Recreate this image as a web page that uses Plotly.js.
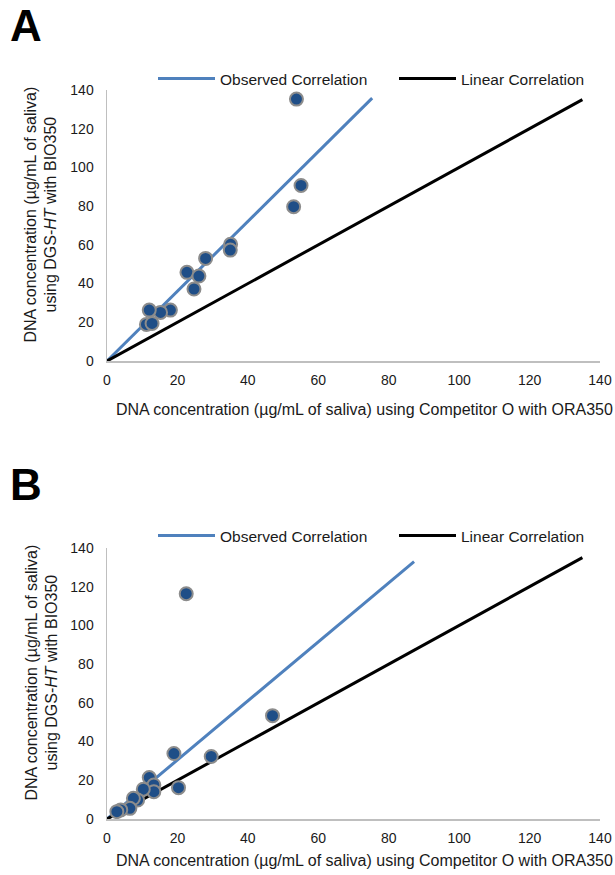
<!DOCTYPE html>
<html>
<head>
<meta charset="utf-8">
<script src="https://cdn.plot.ly/plotly-3.0.1.min.js"></script>
<style>html,body{margin:0;padding:0;background:#fff;}#chart{width:615px;height:875px;}</style>
</head>
<body>
<div id="chart"></div>
<script>
// Panel A data
const aX = [53.8, 55.1, 53.0, 35.1, 35.0, 28.0, 22.7, 26.1, 24.7, 18.0, 15.2, 12.0, 11.2, 12.8];
const aY = [135.3, 90.7, 79.7, 60.3, 57.3, 53.0, 45.8, 43.9, 37.2, 26.3, 25.1, 26.3, 18.9, 19.4];
const aObsX = [0, 75.3];
const aObsY = [0, 135.8];
// Panel B data
const bX = [22.5, 47.0, 29.6, 19.0, 20.3, 12.0, 13.3, 13.3, 10.3, 8.7, 7.5, 6.5, 3.9, 2.8];
const bY = [116.4, 53.4, 32.3, 33.8, 16.2, 21.4, 17.6, 14.1, 15.4, 9.8, 10.7, 5.5, 4.7, 3.8];
const bObsX = [0, 87.2];
const bObsY = [0, 133];
// Linear (1:1) correlation
const linX = [0, 135];
const linY = [0, 135];
// Labels
const seriesNames = ["Observed Correlation", "Linear Correlation"];
const xTitle = "DNA concentration (µg/mL of saliva) using Competitor O with ORA350";
const yTitle = "DNA concentration (µg/mL of saliva)<br>using DGS-<i>HT</i> with BIO350";
const panelLabels = ["A", "B"];

const W = 615, H = 875;
const FONT = "Liberation Sans, Arial, sans-serif";
const obsColor = "#4f81bd";
const markerStyle = {size: 13, color: "#1f4e87", line: {color: "#8c8c8c", width: 2}};

function px(x) { return x / W; }
function py(y) { return 1 - y / H; }

const traces = [
  {x: aObsX, y: aObsY, mode: "lines", name: seriesNames[0], line: {color: obsColor, width: 3}, xaxis: "x", yaxis: "y", legend: "legend"},
  {x: linX, y: linY, mode: "lines", name: seriesNames[1], line: {color: "#000", width: 3}, xaxis: "x", yaxis: "y", legend: "legend2"},
  {x: aX, y: aY, mode: "markers", marker: markerStyle, showlegend: false, xaxis: "x", yaxis: "y"},
  {x: bObsX, y: bObsY, mode: "lines", name: seriesNames[0], line: {color: obsColor, width: 3}, xaxis: "x2", yaxis: "y2", legend: "legend3"},
  {x: linX, y: linY, mode: "lines", name: seriesNames[1], line: {color: "#000", width: 3}, xaxis: "x2", yaxis: "y2", legend: "legend4"},
  {x: bX, y: bY, mode: "markers", marker: markerStyle, showlegend: false, xaxis: "x2", yaxis: "y2"}
];

const axisCommon = {
  range: [0, 140], dtick: 20, tick0: 0, showgrid: false, zeroline: false,
  showline: true, linecolor: "#bfbfbf", linewidth: 1.5, ticks: "",
  tickfont: {family: FONT, size: 14, color: "#1a1a1a"}, fixedrange: true
};
const xAxisCommon = Object.assign({}, axisCommon, {ticklabelstandoff: 6});
const yAxisCommon = Object.assign({}, axisCommon, {ticklabelstandoff: 9});

const xDom = [px(107), px(600)];
const legendCommon = {
  orientation: "h", xanchor: "left", yanchor: "middle", itemwidth: 57,
  font: {family: FONT, size: 15.5, color: "#1a1a1a"},
  bgcolor: "rgba(0,0,0,0)", borderwidth: 0
};

const annotations = [];
[[90, 361, 409], [548, 819, 860]].forEach((p, i) => {
  annotations.push({
    xref: "paper", yref: "paper", x: px(364.5), y: py(p[2]), xanchor: "center", yanchor: "middle",
    text: xTitle, showarrow: false, font: {family: FONT, size: 16, color: "#1a1a1a"}
  });
  annotations.push({
    xref: "paper", yref: "paper", x: px(41), y: py((p[0] + p[1]) / 2 - 11), xanchor: "center", yanchor: "middle",
    text: yTitle, textangle: -90, showarrow: false, font: {family: FONT, size: 16, color: "#1a1a1a"}
  });
  annotations.push({
    xref: "paper", yref: "paper", x: px(26), y: py(p[0] - 64), xanchor: "center", yanchor: "middle",
    text: "<b>" + panelLabels[i] + "</b>", showarrow: false, font: {family: FONT, size: 44, color: "#000"}
  });
});

const layout = {
  width: W, height: H, margin: {l: 0, r: 0, t: 0, b: 0},
  paper_bgcolor: "#fff", plot_bgcolor: "#fff", showlegend: true,
  xaxis: Object.assign({}, xAxisCommon, {domain: xDom, anchor: "y"}),
  yaxis: Object.assign({}, yAxisCommon, {domain: [py(361), py(90)], anchor: "x"}),
  xaxis2: Object.assign({}, xAxisCommon, {domain: xDom, anchor: "y2"}),
  yaxis2: Object.assign({}, yAxisCommon, {domain: [py(819), py(548)], anchor: "x2"}),
  legend: Object.assign({}, legendCommon, {x: px(153), y: py(79)}),
  legend2: Object.assign({}, legendCommon, {x: px(394), y: py(79)}),
  legend3: Object.assign({}, legendCommon, {x: px(153), y: py(536)}),
  legend4: Object.assign({}, legendCommon, {x: px(394), y: py(536)}),
  annotations: annotations
};

Plotly.newPlot("chart", traces, layout, {displayModeBar: false, staticPlot: true});
</script>
</body>
</html>
